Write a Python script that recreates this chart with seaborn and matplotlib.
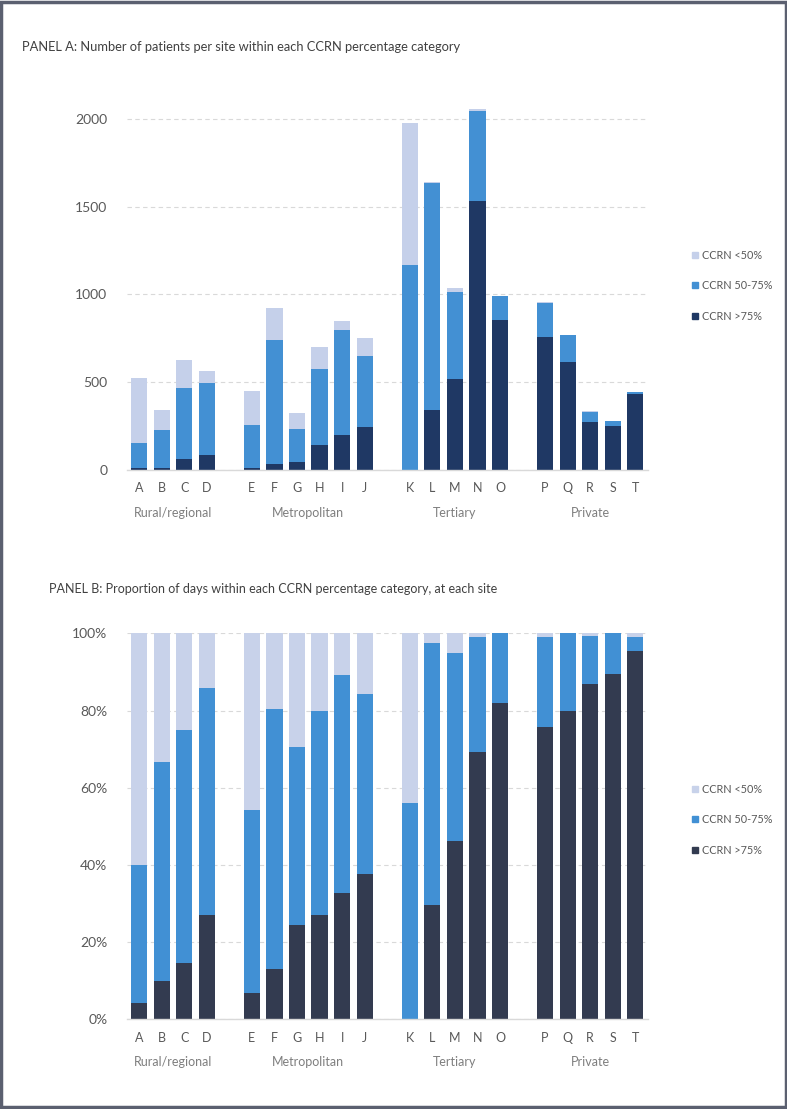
import pandas as pd
import matplotlib.pyplot as plt
from matplotlib.patches import Rectangle
from matplotlib.lines import Line2D
import seaborn as sns

sns.set_theme(style="white")
plt.rcParams['font.family'] = ['Lato', 'DejaVu Sans']

# ---- data ----
sites = list("ABCDEFGHIJKLMNOPQRST")
groups = ["Rural/regional", "Metropolitan", "Tertiary", "Private"]
group_sites = [list("ABCD"), list("EFGHIJ"), list("KLMNO"), list("PQRST")]
categories = ["CCRN <50%", "CCRN 50-75%", "CCRN >75%"]

# Panel A: number of patients per site
patients_low = [370, 116, 162, 64, 196, 179, 95, 126, 49, 101, 807, 5, 23, 10, 4, 6, 2, 2, 4, 5]
patients_mid = [145, 215, 400, 414, 243, 706, 185, 436, 597, 408, 1168, 1289, 495, 513, 134, 193, 152, 57, 24, 9]
patients_high = [11, 11, 65, 84, 11, 36, 47, 141, 201, 243, 0, 344, 517, 1532, 855, 760, 615, 275, 253, 433]

# Panel B: proportion of days (%)
days_low = [60.0, 33.4, 25.1, 14.2, 45.9, 19.7, 29.5, 20.1, 10.8, 15.7, 44.0, 2.4, 5.2, 0.9, 0.0, 0.9, 0.0, 0.7, 0.0, 1.0]
days_mid = [35.9, 56.7, 60.4, 58.9, 47.4, 67.2, 46.1, 53.0, 56.5, 46.6, 56.0, 68.1, 48.6, 29.8, 18.1, 23.3, 20.0, 12.5, 10.6, 3.7]
days_high = [4.1, 9.9, 14.5, 26.9, 6.7, 13.1, 24.4, 26.9, 32.7, 37.7, 0.0, 29.5, 46.2, 69.3, 81.9, 75.8, 80.0, 86.8, 89.4, 95.3]

# x positions with a gap between site groups
positions = []
p = 0
for gs in group_sites:
    for _ in gs:
        positions.append(p)
        p += 1
    p += 1

colors_a = ['#c5d0ea', '#4390d3', '#1f3864']
colors_b = ['#c8d2ea', '#4190d4', '#333b50']

fig = plt.figure(figsize=(7.87, 11.09), dpi=100)
ax_a = fig.add_axes([0.161, 0.5762, 0.662, 0.3324])
ax_b = fig.add_axes([0.161, 0.0809, 0.662, 0.3480])


def group_labels(ax, offset_px):
    idx = 0
    for g, gs in zip(groups, group_sites):
        xs = positions[idx:idx + len(gs)]
        idx += len(gs)
        ax.annotate(g, xy=((xs[0] + xs[-1]) / 2, 0), xycoords=('data', 'axes fraction'),
                    xytext=(0, -offset_px), textcoords='offset pixels',
                    ha='center', va='center', fontsize=9, color='#7f7f7f')


def stacked(ax, low, mid, high, colors):
    df = pd.DataFrame({'pos': positions, 'site': sites,
                       'low': low, 'mid': mid, 'high': high})
    # cumulative heights, drawn back to front
    df['top'] = df['low'] + df['mid'] + df['high']
    df['midtop'] = df['mid'] + df['high']
    for col, c in zip(['top', 'midtop', 'high'], colors):
        sns.barplot(data=df, x='pos', y=col, native_scale=True, color=c,
                    width=0.72, saturation=1, errorbar=None, ax=ax,
                    linewidth=0)
    ax.set_xlim(-0.55, positions[-1] + 0.55)
    ax.set_xticks(positions)
    ax.set_xticklabels(sites, fontsize=9, color='#595959')
    ax.set_xlabel('')
    ax.set_ylabel('')
    ax.tick_params(axis='x', length=0, pad=9)
    ax.tick_params(axis='y', length=0, labelsize=10, labelcolor='#595959', pad=14)
    for s in ['top', 'right', 'left']:
        ax.spines[s].set_visible(False)
    ax.spines['bottom'].set_color('#d9d9d9')
    ax.spines['bottom'].set_linewidth(1)
    ax.yaxis.grid(True, linestyle=(0, (4, 3)), color='#d9d9d9', linewidth=0.8)
    ax.set_axisbelow(True)


# Panel A
stacked(ax_a, patients_low, patients_mid, patients_high, colors_a)
ax_a.set_ylim(0, 2100)
ax_a.set_yticks([0, 500, 1000, 1500, 2000])
group_labels(ax_a, 43)

# Panel B
stacked(ax_b, days_low, days_mid, days_high, colors_b)
ax_b.set_ylim(0, 100)
ax_b.set_yticks([0, 20, 40, 60, 80, 100])
ax_b.set_yticklabels([f"{v}%" for v in [0, 20, 40, 60, 80, 100]])
group_labels(ax_b, 43)

# titles
fig.text(22 / 787, 1 - 47 / 1109, "PANEL A: Number of patients per site within each CCRN percentage category",
         fontsize=9.3, color='#404040', va='center', ha='left')
fig.text(49 / 787, 1 - 589 / 1109, "PANEL B: Proportion of days within each CCRN percentage category, at each site",
         fontsize=9, color='#404040', va='center', ha='left')


# legends
def add_legend(colors, y_px):
    handles = [Line2D([0], [0], marker='s', linestyle='', markersize=5,
                      markerfacecolor=c, markeredgecolor=c) for c in colors]
    fig.legend(handles, categories, loc='upper left',
               bbox_to_anchor=(680 / 787, 1 - y_px / 1109), frameon=False,
               fontsize=7.8, labelspacing=1.8, handletextpad=0.1,
               handlelength=1.0, labelcolor='#595959')


add_legend(colors_a, 240)
add_legend(colors_b, 774)

# outer frame
fig.patches.append(Rectangle((0.0015, 0.0015), 0.997, 0.997, transform=fig.transFigure,
                             fill=False, edgecolor='#5b6070', linewidth=2.5))

fig.savefig('out.png', dpi=100)
